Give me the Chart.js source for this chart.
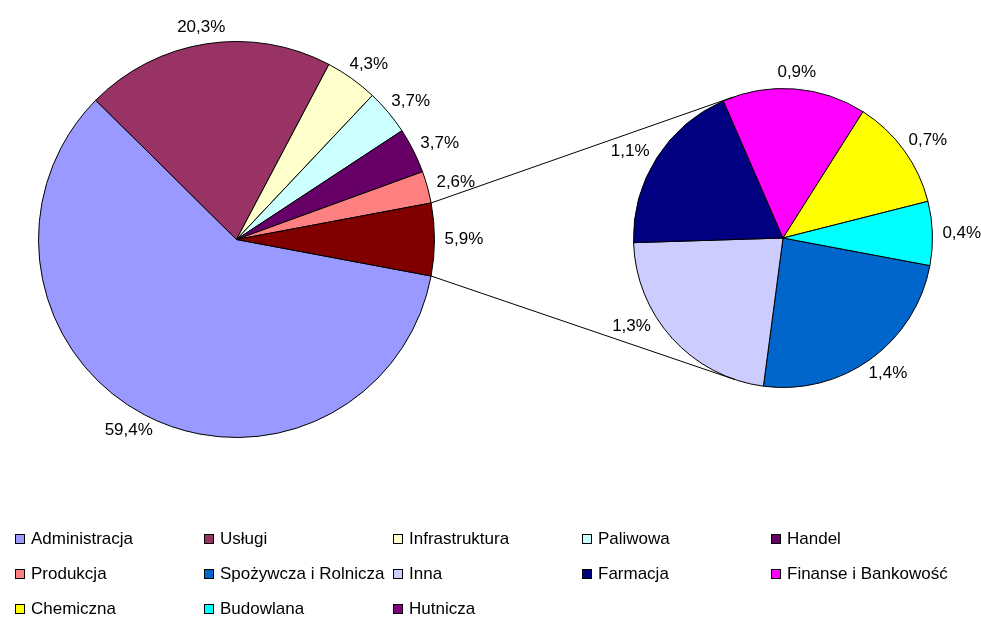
<!DOCTYPE html>
<html lang="pl">
<head>
<meta charset="utf-8">
<title>Struktura branżowa</title>
<script src="https://cdn.jsdelivr.net/npm/chart.js@4.4.1/dist/chart.umd.min.js"></script>
<style>
  html, body { margin: 0; padding: 0; background: #fff; }
  #wrap { position: relative; width: 981px; height: 618px; overflow: hidden; }
  #wrap canvas { position: absolute; left: 0; top: 0; }
  #legend {
    position: absolute; left: 15px; top: 521px;
    display: grid; grid-template-columns: repeat(5, 189px); grid-auto-rows: 35px;
    font: 17px "Liberation Sans", Arial, sans-serif; color: #000;
  }
  .item { display: flex; align-items: center; white-space: nowrap; }
  .box { width: 10px; height: 10px; box-sizing: border-box; border: 1px solid #000; margin-right: 6px; flex: none; }
</style>
</head>
<body>
<div id="wrap">
  <canvas id="mainPie" width="981" height="618"></canvas>
  <canvas id="subPie" width="981" height="618"></canvas>
  <div id="legend"></div>
</div>
<script>
// main pie (the last slice is split out into the small pie)
const mainLabels = ['Administracja', 'Usługi', 'Infrastruktura', 'Paliwowa', 'Handel', 'Produkcja'];
const mainValues = [59.4, 20.3, 4.3, 3.7, 3.7, 2.6];
const mainColors = ['#9999FF', '#993366', '#FFFFCC', '#CCFFFF', '#660066', '#FF8080'];
const otherLabel = 'Pozostałe';
const otherValue = 5.9;
const otherColor = '#800000';

// small pie
const subLabels = ['Spożywcza i Rolnicza', 'Inna', 'Farmacja', 'Finanse i Bankowość', 'Chemiczna', 'Budowlana', 'Hutnicza'];
const subValues = [1.4, 1.3, 1.1, 0.9, 0.7, 0.4, 0];
const subColors = ['#0066CC', '#CCCCFF', '#000080', '#FF00FF', '#FFFF00', '#00FFFF', '#800080'];

const LABEL_FONT = '17px "Liberation Sans", Arial, sans-serif';

const fmt = v => v.toFixed(1).replace('.', ',') + '%';

// rotate so the "other" slice sits centred on the right-hand side
const mainTotal = mainValues.reduce((a, b) => a + b, 0) + otherValue;
const rotation = 90 + (otherValue / mainTotal * 360) / 2;

let mainChart = null;

// connector segments: from the ends of the "other" slice, tangent to the small pie
function connectorSegments(subChart) {
  if (!mainChart) return [];
  const meta = mainChart.getDatasetMeta(0);
  const other = meta.data[meta.data.length - 1];
  const a = other.getProps(['x', 'y', 'startAngle', 'endAngle', 'outerRadius'], true);
  const b = subChart.getDatasetMeta(0).data[0].getProps(['x', 'y', 'outerRadius'], true);
  return [[a.startAngle, 1], [a.endAngle, -1]].map(([ang, side]) => {
    const px = a.x + Math.cos(ang) * a.outerRadius;
    const py = a.y + Math.sin(ang) * a.outerRadius;
    const dx = px - b.x, dy = py - b.y;
    const t = Math.atan2(dy, dx) + side * Math.acos(b.outerRadius / Math.hypot(dx, dy));
    return [px, py, b.x + Math.cos(t) * b.outerRadius, b.y + Math.sin(t) * b.outerRadius];
  });
}

function hitsSegment(box, seg) {
  for (let k = 0; k <= 200; k++) {
    const x = seg[0] + (seg[2] - seg[0]) * k / 200;
    const y = seg[1] + (seg[3] - seg[1]) * k / 200;
    if (x > box.l && x < box.r && y > box.t && y < box.b) return true;
  }
  return false;
}

// percentage labels just outside each slice, nudged off the connector lines
const pctLabels = {
  id: 'pctLabels',
  afterDatasetsDraw(chart) {
    const ctx = chart.ctx;
    const meta = chart.getDatasetMeta(0);
    const values = chart.data.datasets[0].data;
    const segs = chart.canvas.id === 'subPie' ? connectorSegments(chart) : [];
    ctx.save();
    ctx.font = LABEL_FONT;
    ctx.fillStyle = '#000';
    ctx.textAlign = 'center';
    ctx.textBaseline = 'middle';
    meta.data.forEach((arc, i) => {
      if (!values[i]) return;
      const p = arc.getProps(['x', 'y', 'startAngle', 'endAngle', 'outerRadius'], true);
      const text = fmt(values[i]);
      const w = ctx.measureText(text).width;
      const h = 14;
      const r = p.outerRadius + 10;
      const place = ang => {
        const cx = p.x + Math.cos(ang) * (r + w / 2);
        const cy = p.y + Math.sin(ang) * (r + h / 2);
        return { cx, cy, l: cx - w / 2 - 3, r: cx + w / 2 + 3, t: cy - h / 2 - 3, b: cy + h / 2 + 3 };
      };
      const mid = (p.startAngle + p.endAngle) / 2;
      let pos = place(mid);
      for (let step = 1; step <= 40 && segs.some(s => hitsSegment(pos, s)); step++) {
        const d = step * Math.PI / 180;
        const up = place(mid + d), down = place(mid - d);
        if (!segs.some(s => hitsSegment(up, s))) { pos = up; break; }
        if (!segs.some(s => hitsSegment(down, s))) { pos = down; break; }
      }
      ctx.fillText(text, pos.cx, pos.cy);
    });
    ctx.restore();
  }
};

mainChart = new Chart(document.getElementById('mainPie'), {
  type: 'pie',
  data: {
    labels: [...mainLabels, otherLabel],
    datasets: [{
      data: [...mainValues, otherValue],
      backgroundColor: [...mainColors, otherColor],
      borderColor: '#000',
      borderWidth: 1
    }]
  },
  options: {
    responsive: false,
    animation: false,
    events: [],
    rotation: rotation,
    layout: { padding: { left: 38, top: 41, right: 546, bottom: 180 } },
    plugins: { legend: { display: false }, tooltip: { enabled: false } }
  },
  plugins: [pctLabels]
});

const connectors = {
  id: 'connectors',
  afterDraw(chart) {
    const ctx = chart.ctx;
    ctx.save();
    ctx.strokeStyle = '#000';
    ctx.lineWidth = 1;
    connectorSegments(chart).forEach(s => {
      ctx.beginPath();
      ctx.moveTo(s[0], s[1]);
      ctx.lineTo(s[2], s[3]);
      ctx.stroke();
    });
    ctx.restore();
  }
};

new Chart(document.getElementById('subPie'), {
  type: 'pie',
  data: {
    labels: subLabels,
    datasets: [{
      data: subValues,
      backgroundColor: subColors,
      borderColor: '#000',
      borderWidth: 1
    }]
  },
  options: {
    responsive: false,
    animation: false,
    events: [],
    rotation: rotation,
    layout: { padding: { left: 633, top: 88, right: 48, bottom: 230 } },
    plugins: { legend: { display: false }, tooltip: { enabled: false } }
  },
  plugins: [pctLabels, connectors]
});

// legend grid
const legend = document.getElementById('legend');
const legendColors = [...mainColors, ...subColors];
[...mainLabels, ...subLabels].forEach((name, i) => {
  const item = document.createElement('div');
  item.className = 'item';
  const box = document.createElement('span');
  box.className = 'box';
  box.style.background = legendColors[i];
  item.appendChild(box);
  item.appendChild(document.createTextNode(name));
  legend.appendChild(item);
});
</script>
</body>
</html>
